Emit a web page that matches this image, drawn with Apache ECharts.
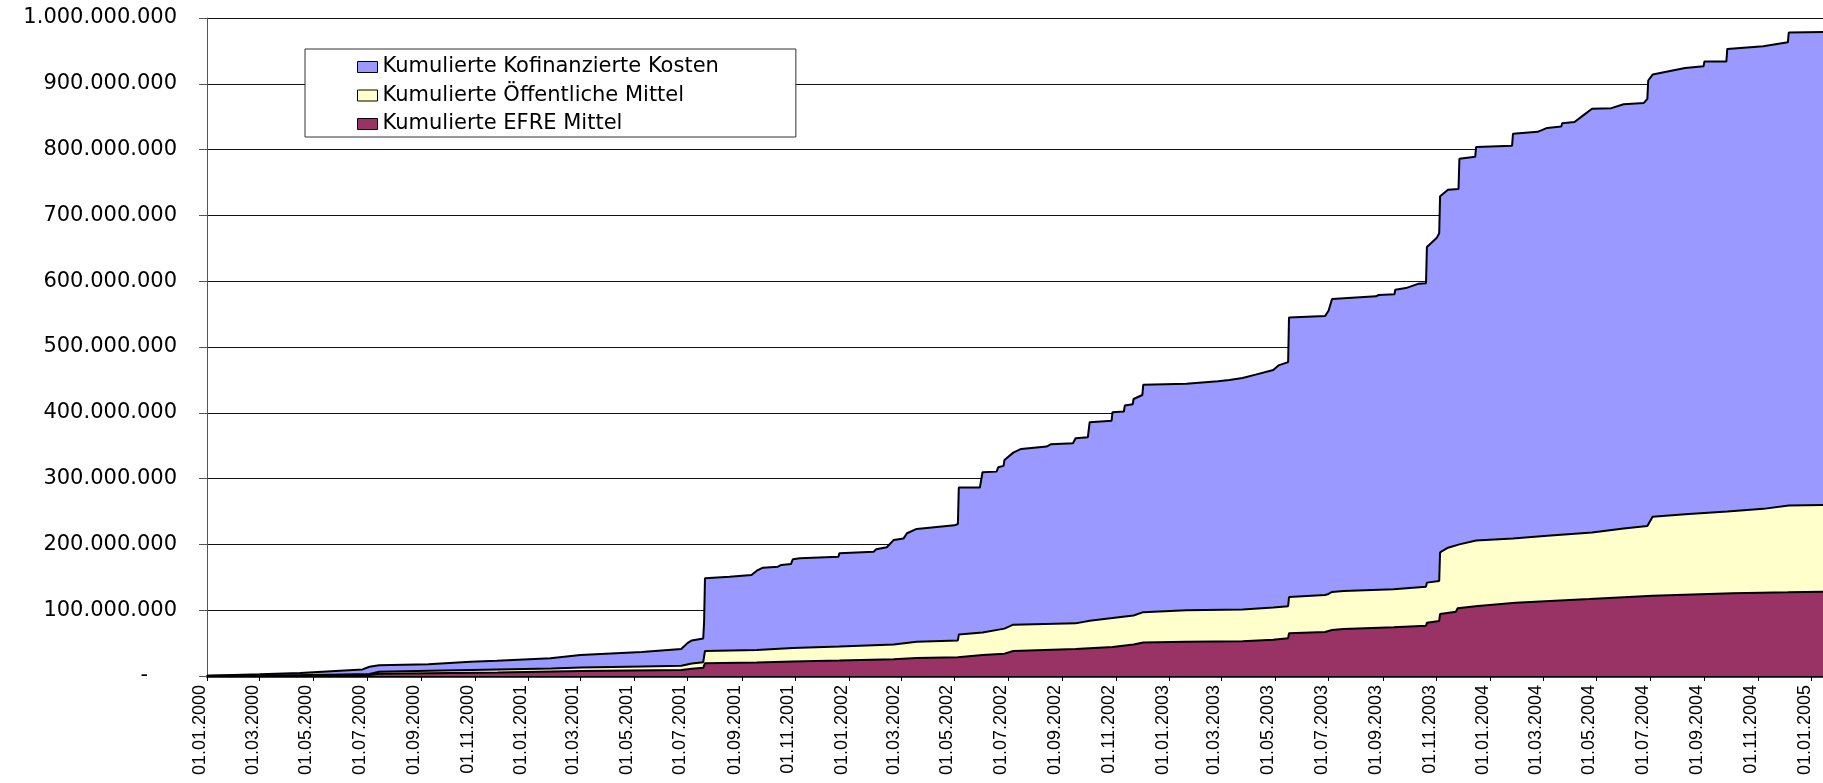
<!DOCTYPE html>
<html>
<head>
<meta charset="utf-8">
<title>Kumulierte Kosten</title>
<script src="https://cdn.jsdelivr.net/npm/echarts@6/dist/echarts.min.js"></script>
<style>
  html, body { margin: 0; padding: 0; background: #fff; }
  #chart { width: 1823px; height: 783px; }
</style>
</head>
<body>
<div id="chart"></div>
<script>
// Werte in Mio. Euro, [Datum, kumulierter Wert]
const kosten = [
  ['2000-01-01', 0.5], ['2000-03-01', 2.5], ['2000-04-16', 4.5], ['2000-04-17', 7],
  ['2000-06-26', 10], ['2000-07-04', 14], ['2000-07-15', 16.5], ['2000-09-09', 18],
  ['2000-09-11', 20], ['2000-10-27', 21.5], ['2000-11-26', 23], ['2000-11-27', 25],
  ['2001-01-26', 27], ['2001-01-27', 30], ['2001-03-01', 32], ['2001-03-02', 35],
  ['2001-05-10', 36.5], ['2001-05-11', 38], ['2001-06-24', 41], ['2001-07-01', 50],
  ['2001-07-06', 54], ['2001-07-19', 57], ['2001-07-20', 82], ['2001-07-21', 148.5],
  ['2001-08-18', 151], ['2001-09-12', 153.6], ['2001-09-18', 160], ['2001-09-25', 164.7],
  ['2001-10-12', 166.2], ['2001-10-16', 168.8], ['2001-10-27', 170.3], ['2001-10-29', 177.4],
  ['2001-11-06', 179], ['2001-12-20', 181.4], ['2001-12-21', 186.5], ['2002-01-29', 189],
  ['2002-02-01', 192.6], ['2002-02-13', 195.6], ['2002-02-21', 206.8], ['2002-03-04', 208.8],
  ['2002-03-08', 217], ['2002-03-19', 223.5], ['2002-05-01', 229], ['2002-05-05', 231],
  ['2002-05-06', 286.3], ['2002-05-30', 286.3], ['2002-06-02', 309.7], ['2002-06-18', 310.6],
  ['2002-06-20', 317.3], ['2002-06-26', 319.3], ['2002-06-27', 328.4], ['2002-07-07', 339.5],
  ['2002-07-16', 345.1], ['2002-08-14', 348.7], ['2002-08-19', 352.3], ['2002-09-13', 353.8],
  ['2002-09-16', 361.4], ['2002-09-30', 362.9], ['2002-10-02', 385.7], ['2002-10-27', 388],
  ['2002-10-28', 401], ['2002-11-10', 402], ['2002-11-11', 411], ['2002-11-20', 413],
  ['2002-11-21', 421], ['2002-12-01', 427], ['2002-12-02', 442.5], ['2003-01-20', 444],
  ['2003-02-25', 448], ['2003-03-10', 450], ['2003-03-25', 453], ['2003-04-09', 458],
  ['2003-04-29', 465], ['2003-05-05', 472], ['2003-05-16', 477], ['2003-05-17', 545],
  ['2003-06-27', 547], ['2003-07-01', 555], ['2003-07-05', 573], ['2003-08-24', 577],
  ['2003-08-27', 579], ['2003-09-14', 580], ['2003-09-15', 587], ['2003-09-27', 589.5],
  ['2003-10-11', 596], ['2003-10-20', 597], ['2003-10-21', 652], ['2003-11-01', 665.5],
  ['2003-11-04', 673], ['2003-11-05', 729], ['2003-11-14', 739], ['2003-11-26', 740],
  ['2003-11-27', 786], ['2003-12-15', 789], ['2003-12-16', 804], ['2004-01-26', 806],
  ['2004-01-27', 824], ['2004-02-24', 827], ['2004-03-06', 833], ['2004-03-22', 835],
  ['2004-03-23', 840], ['2004-04-06', 842], ['2004-04-16', 852], ['2004-04-26', 862],
  ['2004-05-18', 863], ['2004-06-01', 869], ['2004-06-24', 871], ['2004-06-28', 877],
  ['2004-06-29', 905], ['2004-07-04', 914], ['2004-08-10', 924], ['2004-08-31', 926.5],
  ['2004-09-01', 934], ['2004-09-26', 934], ['2004-09-27', 953], ['2004-11-07', 957],
  ['2004-12-05', 963], ['2004-12-06', 978], ['2005-01-14', 978.6]
];

const oeffentlich = [
  ['2000-01-01', 0.2], ['2000-04-17', 1], ['2000-07-04', 3], ['2000-07-15', 6.5],
  ['2000-09-11', 8], ['2000-11-27', 10], ['2001-01-27', 11.5], ['2001-03-02', 13],
  ['2001-05-11', 14.5], ['2001-06-24', 15.5], ['2001-07-06', 19], ['2001-07-19', 21],
  ['2001-07-21', 38], ['2001-09-18', 39.5], ['2001-10-29', 42.5], ['2001-12-21', 45],
  ['2002-02-21', 48], ['2002-03-19', 52], ['2002-05-05', 54], ['2002-05-06', 63],
  ['2002-06-02', 66], ['2002-06-27', 72], ['2002-07-07', 78], ['2002-09-16', 80],
  ['2002-10-02', 84], ['2002-10-28', 88], ['2002-11-21', 92], ['2002-12-02', 97],
  ['2003-01-20', 100], ['2003-03-25', 101], ['2003-04-29', 104], ['2003-05-16', 106],
  ['2003-05-17', 120], ['2003-06-27', 123], ['2003-07-01', 124.7], ['2003-07-05', 127.7],
  ['2003-07-18', 129.2], ['2003-09-13', 131.8], ['2003-10-20', 135.8], ['2003-10-21', 141.9],
  ['2003-11-04', 144.4], ['2003-11-05', 188], ['2003-11-14', 195], ['2003-11-27', 200],
  ['2003-12-16', 206], ['2004-01-27', 209], ['2004-03-06', 213], ['2004-04-26', 218],
  ['2004-06-01', 224], ['2004-06-28', 228], ['2004-07-04', 242], ['2004-08-10', 246],
  ['2004-09-27', 250], ['2004-11-07', 254], ['2004-12-06', 259], ['2005-01-14', 260]
];

const efre = [
  ['2000-01-01', 0.1], ['2000-07-04', 1.5], ['2000-07-15', 3.5], ['2000-11-27', 5.5],
  ['2001-03-02', 7.5], ['2001-06-24', 9], ['2001-07-06', 11], ['2001-07-19', 12.5],
  ['2001-07-21', 19.5], ['2001-09-18', 20.5], ['2001-10-29', 22], ['2001-12-21', 23.5],
  ['2002-02-21', 25.5], ['2002-03-19', 27.5], ['2002-05-05', 28.5], ['2002-05-06', 30],
  ['2002-06-02', 32], ['2002-06-27', 34], ['2002-07-07', 38], ['2002-09-16', 41],
  ['2002-10-28', 44], ['2002-11-21', 48], ['2002-12-02', 51], ['2003-01-20', 52],
  ['2003-03-25', 53], ['2003-04-29', 55], ['2003-05-16', 57.5], ['2003-05-17', 65],
  ['2003-06-27', 67], ['2003-07-05', 69.9], ['2003-07-18', 71.5], ['2003-09-13', 74],
  ['2003-10-20', 76.5], ['2003-10-21', 81], ['2003-11-04', 83.6], ['2003-11-05', 94.3],
  ['2003-11-23', 97.8], ['2003-11-25', 102.9], ['2003-12-18', 106.4], ['2004-01-30', 111.5],
  ['2004-04-23', 117.1], ['2004-07-04', 122.1], ['2004-10-03', 125.7], ['2004-12-05', 127.2],
  ['2005-01-14', 128.2]
];

const seriesNames = [
  'Kumulierte Kofinanzierte Kosten',
  'Kumulierte Öffentliche Mittel',
  'Kumulierte EFRE Mittel'
];
const seriesColors = ['#9999FF', '#FFFFCC', '#993366'];

const xTickLabels = [
  '01.01.2000', '01.03.2000', '01.05.2000', '01.07.2000', '01.09.2000', '01.11.2000',
  '01.01.2001', '01.03.2001', '01.05.2001', '01.07.2001', '01.09.2001', '01.11.2001',
  '01.01.2002', '01.03.2002', '01.05.2002', '01.07.2002', '01.09.2002', '01.11.2002',
  '01.01.2003', '01.03.2003', '01.05.2003', '01.07.2003', '01.09.2003', '01.11.2003',
  '01.01.2004', '01.03.2004', '01.05.2004', '01.07.2004', '01.09.2004', '01.11.2004',
  '01.01.2005'
];
const xMin = '2000-01-01';
const xMax = '2005-01-14';
const yMax = 1000000000;
const yStep = 100000000;

// Datum als Tagesnummer (UTC), damit die Achse linear in Tagen läuft
const DAY = 86400000;
const isoDay = s => {
  const p = s.split('-').map(Number);
  return Date.UTC(p[0], p[1] - 1, p[2]) / DAY;
};
const deDay = s => {
  const p = s.split('.').map(Number);
  return Date.UTC(p[2], p[1] - 1, p[0]) / DAY;
};
const toPoints = list => list.map(d => [isoDay(d[0]), d[1] * 1000000]);

const xTicks = xTickLabels.map(deDay);
const labelByDay = {};
xTickLabels.forEach((l, i) => { labelByDay[xTicks[i]] = l; });

const fmtNum = v => String(Math.round(v)).replace(/\B(?=(\d{3})+(?!\d))/g, '.');

const chart = echarts.init(document.getElementById('chart'));

const makeSeries = (i, data) => ({
  name: seriesNames[i],
  type: 'line',
  data: toPoints(data),
  symbol: 'none',
  showSymbol: false,
  lineStyle: { color: '#000', width: 2 },
  itemStyle: { color: seriesColors[i] },
  areaStyle: { color: seriesColors[i], opacity: 1 }
});

const option = {
  animation: false,
  backgroundColor: '#fff',
  grid: { left: 207, right: 0, top: 18, bottom: 107, outerBoundsMode: 'none' },
  legend: {
    orient: 'vertical',
    left: 305,
    top: 49,
    padding: [7, 77, 2, 52],
    itemGap: 6.5,
    itemWidth: 20,
    itemHeight: 11,
    icon: 'rect',
    backgroundColor: '#fff',
    borderColor: '#333',
    borderWidth: 1,
    textStyle: { fontFamily: 'DejaVu Sans', fontSize: 21, color: '#000', lineHeight: 22 },
    itemStyle: { borderColor: '#000', borderWidth: 1 },
    data: seriesNames.map((n, i) => ({
      name: n,
      itemStyle: { color: seriesColors[i], borderColor: '#000', borderWidth: 1 }
    }))
  },
  xAxis: {
    type: 'value',
    min: isoDay(xMin),
    max: isoDay(xMax),
    axisLine: { lineStyle: { color: '#000', width: 2.5 } },
    axisTick: { customValues: xTicks, length: 5, lineStyle: { color: '#000', width: 1 } },
    axisLabel: {
      customValues: xTicks,
      rotate: 90,
      margin: 9,
      verticalAlign: 'bottom',
      lineHeight: 14,
      fontFamily: 'Liberation Sans',
      fontSize: 18,
      color: '#000',
      formatter: v => labelByDay[Math.round(v)] || ''
    },
    splitLine: { show: false }
  },
  yAxis: {
    type: 'value',
    min: 0,
    max: yMax,
    interval: yStep,
    axisLine: { show: true, lineStyle: { color: '#555', width: 1 } },
    axisTick: { show: true, length: 8, lineStyle: { color: '#555', width: 1 } },
    splitLine: { show: true, lineStyle: { color: '#111', width: 1 } },
    axisLabel: {
      margin: 30,
      fontFamily: 'DejaVu Sans',
      fontSize: 21,
      color: '#000',
      formatter: v => (v === 0 ? '{z|-}' : fmtNum(v)),
      rich: {
        z: { fontFamily: 'DejaVu Sans', fontSize: 21, color: '#000', padding: [0, 29, 0, 0] }
      }
    }
  },
  series: [
    makeSeries(0, kosten),
    makeSeries(1, oeffentlich),
    makeSeries(2, efre)
  ]
};

chart.setOption(option);
window.addEventListener('resize', () => chart.resize());
</script>
</body>
</html>
